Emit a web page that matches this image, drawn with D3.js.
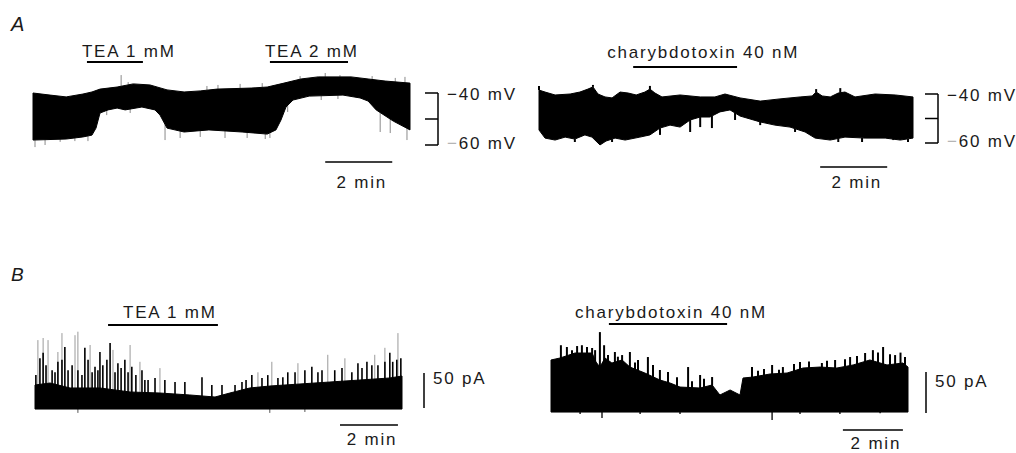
<!DOCTYPE html>
<html>
<head>
<meta charset="utf-8">
<script src="https://cdn.jsdelivr.net/npm/d3@7"></script>
<style>
  body { margin: 0; background: #fff; }
  svg text { font-family: "Liberation Sans", Arial, sans-serif; fill: #1a1a1a; font-size: 17px; letter-spacing: 1.8px; }
</style>
</head>
<body>
<svg id="fig" width="1016" height="453"></svg>
<script>
// ---- Data ----
// A left: membrane potential envelope (min, mV) with TEA
var alTop = [[0,-40.0],[0.51,-40.8],[0.99,-41.5],[1.49,-40.4],[1.76,-39.6],[2.0,-38.5],[2.51,-37.7],[2.99,-36.5],[3.49,-36.9],[4.0,-38.8],[4.51,-39.6],[4.99,-39.2],[5.49,-38.5],[6.51,-38.1],[6.99,-37.7],[7.49,-36.2],[8.0,-34.6],[8.51,-33.8],[9.49,-33.8],[10.0,-34.6],[10.51,-35.4],[11.25,-36.2]];
var alBottom = [[0,-58.1],[0.99,-57.7],[1.49,-56.9],[1.76,-56.2],[1.88,-53.5],[2.0,-47.7],[2.24,-46.5],[2.51,-45.8],[2.75,-46.5],[3.25,-45.4],[3.64,-46.5],[3.79,-48.5],[4.0,-53.5],[4.51,-55.0],[5.25,-54.2],[6.24,-55.0],[6.99,-55.8],[7.25,-54.2],[7.4,-50.4],[7.55,-45.4],[7.76,-42.7],[8.24,-41.2],[9.25,-40.8],[9.76,-41.9],[10.0,-43.1],[10.24,-46.5],[10.75,-50.8],[11.25,-54.2]];
var alSpikesUp = [[2.63,-33.1],[2.84,-35.8],[5.19,-37.3],[5.52,-36.9],[6.18,-36.5],[6.84,-36.2],[7.97,-33.5],[8.72,-32.3],[9.16,-33.1],[10.12,-33.5],[10.81,-34.2],[11.1,-33.8]];
var alSpikesDown = [[0.06,-60.8],[0.36,-60.0],[0.81,-58.8],[1.25,-58.5],[1.64,-58.5],[2.2,-48.5],[2.9,-47.7],[3.94,-58.1],[4.39,-57.3],[4.99,-56.9],[5.73,-57.3],[6.39,-57.3],[6.93,-57.7],[7.07,-57.3],[7.6,-47.3],[8.6,-42.7],[9.1,-42.3],[10.36,-55.0],[10.66,-55.4],[11.16,-58.1]];

// A right: membrane potential envelope with charybdotoxin
var arTop = [[0,-38.4],[0.18,-39.2],[0.48,-40.4],[0.93,-40.0],[1.22,-39.2],[1.46,-38.0],[1.61,-37.1],[1.76,-40.0],[1.97,-41.2],[2.18,-41.6],[2.42,-39.2],[2.66,-39.6],[2.9,-40.4],[3.16,-39.2],[3.31,-38.0],[3.46,-39.6],[3.67,-41.2],[4.21,-40.4],[4.81,-41.2],[5.25,-41.2],[5.55,-40.0],[6.0,-41.6],[6.6,-42.9],[7.19,-42.0],[7.79,-41.2],[8.15,-40.8],[8.27,-39.2],[8.45,-40.8],[8.69,-41.2],[8.93,-39.6],[9.13,-39.2],[9.43,-41.2],[10.03,-40.0],[10.63,-40.4],[11.16,-41.2]];
var arBottom = [[0,-54.7],[0.18,-58.0],[0.48,-58.8],[0.78,-57.6],[1.07,-58.4],[1.37,-56.7],[1.58,-57.6],[1.82,-60.8],[2.0,-59.2],[2.27,-58.0],[2.57,-58.8],[3.01,-57.6],[3.31,-56.7],[3.61,-53.9],[3.91,-52.7],[4.21,-53.5],[4.51,-50.6],[4.81,-49.4],[5.1,-49.4],[5.4,-47.3],[5.7,-46.5],[6.0,-49.0],[6.6,-51.4],[7.04,-52.7],[7.49,-53.5],[7.94,-55.5],[8.24,-58.0],[8.69,-58.8],[9.13,-57.6],[9.73,-58.0],[10.33,-58.0],[10.78,-58.8],[11.16,-58.0]];
var arSpikesUp = [[0,-36.7],[1.61,-36.3],[3.31,-36.7],[8.27,-38.0],[8.99,-37.6]];
var arSpikesDown = [[1.07,-59.6],[2.18,-59.6],[3.61,-56.7],[4.51,-55.5],[4.81,-53.5],[5.16,-53.9],[5.85,-50.6],[6.6,-52.7],[7.64,-55.5],[8.93,-59.6],[9.64,-59.6],[10.57,-58.8],[11.01,-59.6]];

// B left: current (min, pA) with TEA
var blTop = [[0,32.9],[0.52,35.7],[1.21,28.6],[2.24,28.6],[3.28,22.9],[4.31,21.4],[5.34,18.6],[6.21,15.7],[6.72,21.4],[7.41,28.6],[8.1,31.4],[9.14,34.3],[10.17,37.1],[11.21,40.0],[12.24,42.9],[12.66,45.7]];
var blBottom = [[0,-1.5],[12.66,-1.5]];
var blSpikes = [[0.03,47],[0.17,71],[0.28,79],[0.38,61],[0.59,54],[0.69,51],[0.79,66],[0.93,69],[1.03,87],[1.14,54],[1.28,61],[1.48,54],[1.62,47],[1.72,86],[1.83,69],[1.97,51],[2.07,59],[2.17,54],[2.24,80],[2.34,61],[2.48,69],[2.59,93],[2.76,51],[2.86,64],[2.97,57],[3.1,69],[3.21,51],[3.34,59],[3.48,47],[3.69,54],[3.79,40],[3.9,40],[4.14,43],[4.48,40],[4.83,37],[5.17,37],[5.76,44],[6.1,33],[6.45,33],[6.9,33],[7.14,37],[7.28,40],[7.48,47],[7.83,43],[8.03,47],[8.38,43],[8.55,44],[8.72,51],[8.97,51],[9.31,54],[9.55,59],[9.76,51],[9.9,54],[10.34,54],[10.59,57],[10.93,51],[11.14,64],[11.28,57],[11.45,66],[11.62,61],[11.83,61],[12.07,66],[12.24,79],[12.34,66],[12.48,69],[12.62,71]];
var blSpikesGrey = [[0.1,97],[0.28,100],[0.45,97],[0.79,80],[0.93,107],[1.38,104],[1.48,109],[1.9,90],[2.69,83],[3.28,90],[3.62,66],[4.31,57],[7.69,51],[8.17,66],[9.07,64],[10.1,76],[10.69,71],[11.72,76],[12.07,86],[12.52,107]];
var blSpikesDown = [[1.48,-7],[8.1,-7],[9.31,-5.7]];

// B right: current with charybdotoxin
var brTop = [[0,61.0],[0.3,63.4],[0.8,69.5],[1.37,69.5],[1.5,58.5],[1.63,52.4],[1.8,63.4],[2.03,57.3],[2.37,61.0],[2.63,52.4],[3.13,45.1],[3.63,36.6],[3.97,32.9],[4.3,28.0],[4.97,26.8],[5.37,30.5],[5.63,18.3],[5.97,24.4],[6.3,18.3],[6.4,39.0],[6.73,40.2],[7.3,43.9],[7.87,45.1],[8.4,51.2],[8.97,52.4],[9.53,51.2],[10.07,54.9],[10.63,61.0],[11.2,54.9],[11.73,57.3],[11.9,52.4]];
var brBottom = [[0,-2.5],[11.9,-2.5]];
var brSpikes = [[0.33,79],[0.53,76.8],[0.7,73],[0.87,78],[1.03,79],[1.2,76.8],[1.37,75.6],[1.47,73],[1.63,95],[1.77,79],[1.9,67],[2.13,70.7],[2.23,65],[2.37,67],[2.63,70.7],[2.8,58],[2.9,61],[3.23,64.6],[3.4,55],[3.63,48.8],[3.9,46.3],[4.2,40],[4.57,52.4],[4.7,35],[4.97,42.7],[5.1,38],[5.37,40.2],[6.7,52.4],[6.9,48],[7.1,50],[7.37,54.9],[7.6,49],[7.73,52.4],[8.1,56],[8.3,58.5],[8.6,59],[9.03,57.3],[9.2,60],[9.47,61],[9.8,62],[9.97,64.6],[10.2,66],[10.47,69.5],[10.73,73],[10.9,70],[11.07,76.8],[11.3,68],[11.47,67],[11.65,70],[11.8,64.6]];
var brSpikesDown = [[0.97,-5],[1.7,-9.8],[2.97,-5],[4.3,-5],[7.37,-12.2],[8.3,-5],[9.63,-5],[10.97,-4]];

// drug applications (start, end in min) and labels
var drugs = [
  {panel: "AL", label: "TEA 1 mM", start: 1.61, end: 3.28},
  {panel: "AL", label: "TEA 2 mM", start: 7.07, end: 9.40},
  {panel: "AR", label: "charybdotoxin 40 nM", start: 2.81, end: 5.91},
  {panel: "BL", label: "TEA 1 mM", start: 2.52, end: 6.31},
  {panel: "BR", label: "charybdotoxin 40 nM", start: 1.93, end: 5.87}
];
var timeBarMin = 2;
var mvBar = [-60, -50, -40];
var paBar = 50;

// ---- Layout ----
var layout = {
  AL: {x: [33, 410], t: 11.25, y: [145, 93], dom: [-60, -40], barT: 8.72, barY: 162, barTextY: 188,
       labelDx: -5, labelY: 57, drugY: 62},
  AR: {x: [539, 913], t: 11.16, y: [143, 94], dom: [-60, -40], barT: 8.39, barY: 167, barTextY: 188,
       labelDx: -26, labelY: 58, drugY: 67},
  BL: {x: [35, 402], t: 12.66, y: [408, 373], dom: [0, 50], barT: 10.52, barY: 425, barTextY: 445,
       labelDx: 15, labelY: 318, drugY: 325},
  BR: {x: [551, 908], t: 11.9, y: [410, 369], dom: [0, 50], barT: 9.73, barY: 430, barTextY: 449,
       labelDx: -34, labelY: 318, drugY: 324}
};

var svg = d3.select("#fig");
var scales = {};
Object.keys(layout).forEach(function(k) {
  var L = layout[k];
  scales[k] = {
    x: d3.scaleLinear().domain([0, L.t]).range(L.x),
    y: d3.scaleLinear().domain(L.dom).range(L.y)
  };
});

// value of an envelope at time t (spike bases sit on the envelope they grow from)
function envAt(env, t) {
  var i = d3.bisector(function(d) { return d[0]; }).left(env, t);
  if (i <= 0) return env[0][1];
  if (i >= env.length) return env[env.length - 1][1];
  var a = env[i - 1], b = env[i];
  return a[1] + (b[1] - a[1]) * (t - a[0]) / (b[0] - a[0]);
}

function drawTrace(k, top, bottom) {
  var s = scales[k];
  var line = d3.line().x(function(d) { return s.x(d[0]); }).y(function(d) { return s.y(d[1]); });
  var poly = top.concat(bottom.slice().reverse());
  svg.append("path").attr("d", line(poly) + "Z").attr("fill", "#000").attr("stroke", "#000").attr("stroke-width", 1);
}

function drawSpikes(k, spikes, baseEnv, color, width) {
  var s = scales[k];
  svg.append("g").selectAll("line").data(spikes).enter().append("line")
    .attr("x1", function(d) { return s.x(d[0]); })
    .attr("x2", function(d) { return s.x(d[0]); })
    .attr("y1", function(d) { return s.y(d[1]); })
    .attr("y2", function(d) { return s.y(baseEnv ? envAt(baseEnv, d[0]) : 0); })
    .attr("stroke", color).attr("stroke-width", width);
}

// traces (spikes first, body on top)
drawSpikes("AL", alSpikesUp, alTop, "#8a8a8a", 1);
drawSpikes("AL", alSpikesDown, alBottom, "#8a8a8a", 1);
drawTrace("AL", alTop, alBottom);

drawSpikes("AR", arSpikesUp, arTop, "#000", 2);
drawSpikes("AR", arSpikesDown, arBottom, "#000", 2);
drawTrace("AR", arTop, arBottom);

drawSpikes("BL", blSpikesGrey, null, "#9a9a9a", 1);
drawSpikes("BL", blSpikes, null, "#000", 1.6);
drawSpikes("BL", blSpikesDown, null, "#555", 1);
drawTrace("BL", blTop, blBottom);

drawSpikes("BR", brSpikes, null, "#000", 2);
drawSpikes("BR", brSpikesDown, null, "#222", 1.5);
drawTrace("BR", brTop, brBottom);

// drug bars with labels
drugs.forEach(function(d) {
  var s = scales[d.panel], L = layout[d.panel];
  svg.append("line")
    .attr("x1", s.x(d.start)).attr("x2", s.x(d.end))
    .attr("y1", L.drugY).attr("y2", L.drugY)
    .attr("stroke", "#000").attr("stroke-width", 2);
  svg.append("text").attr("x", s.x(d.start) + L.labelDx).attr("y", L.labelY).text(d.label);
});

// 2 min time bars
Object.keys(layout).forEach(function(k) {
  var s = scales[k], L = layout[k];
  var x0 = s.x(L.barT), x1 = s.x(L.barT + timeBarMin);
  svg.append("line").attr("x1", x0).attr("x2", x1).attr("y1", L.barY).attr("y2", L.barY)
    .attr("stroke", "#000").attr("stroke-width", 1.5);
  svg.append("text").attr("x", (x0 + x1) / 2 + 3).attr("y", L.barTextY)
    .attr("text-anchor", "middle").text(timeBarMin + " min");
});

// mV brackets for panel A
[["AL", 438], ["AR", 938]].forEach(function(p) {
  var s = scales[p[0]], bx = p[1];
  var g = svg.append("g").attr("stroke", "#000").attr("stroke-width", 1.5);
  g.append("line").attr("x1", bx).attr("x2", bx).attr("y1", s.y(mvBar[0])).attr("y2", s.y(mvBar[2]));
  mvBar.forEach(function(v) {
    g.append("line").attr("x1", bx - 13).attr("x2", bx).attr("y1", s.y(v)).attr("y2", s.y(v));
  });
  svg.append("text").attr("x", bx + 9).attr("y", s.y(mvBar[2]) + 7).text("\u2212" + Math.abs(mvBar[2]) + " mV");
  var t = svg.append("text").attr("x", bx + 9).attr("y", s.y(mvBar[0]) + 4);
  t.append("tspan").style("fill", "#b5b5b5").text("\u2212");
  t.append("tspan").text(Math.abs(mvBar[0]) + " mV");
});

// pA scale bars for panel B
[["BL", 424, 408, 384], ["BR", 926, 413, 387]].forEach(function(p) {
  var s = scales[p[0]];
  var len = s.y(0) - s.y(paBar);
  svg.append("line").attr("x1", p[1]).attr("x2", p[1]).attr("y1", p[2]).attr("y2", p[2] - len)
    .attr("stroke", "#000").attr("stroke-width", 1.5);
  svg.append("text").attr("x", p[1] + 9).attr("y", p[3]).text(paBar + " pA");
});

// panel letters
svg.append("text").attr("x", 11).attr("y", 31).style("font-style", "italic").style("font-size", "20px").style("letter-spacing", "0").text("A");
svg.append("text").attr("x", 11).attr("y", 281).style("font-style", "italic").style("font-size", "19px").style("letter-spacing", "0").text("B");
</script>
</body>
</html>
